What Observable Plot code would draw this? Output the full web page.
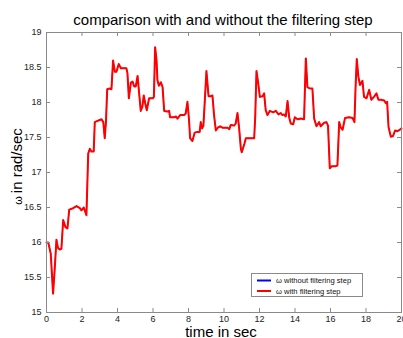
<!DOCTYPE html>
<html><head><meta charset="utf-8">
<script src="https://cdn.jsdelivr.net/npm/d3@7"></script>
<script src="https://cdn.jsdelivr.net/npm/@observablehq/plot@0.6"></script>
<style>html,body{margin:0;padding:0;background:#fff;} svg{display:block}</style>
</head><body><div id="chart"></div>
<script>
const timeSec = [0.0,0.1,0.24,0.37,0.47,0.56,0.65,0.75,0.84,0.94,1.07,1.18,1.28,1.5,1.69,1.88,1.97,2.1,2.25,2.35,2.44,2.53,2.66,2.72,2.9,3.1,3.2,3.28,3.35,3.42,3.56,3.66,3.75,3.85,3.94,4.07,4.19,4.5,4.56,4.64,4.75,4.85,4.94,5.03,5.13,5.22,5.31,5.4,5.48,5.56,5.65,5.78,6.0,6.05,6.12,6.2,6.25,6.33,6.44,6.54,6.63,6.82,6.91,6.96,7.2,7.3,7.38,7.53,7.75,7.84,7.94,8.03,8.09,8.22,8.35,8.5,8.63,8.69,8.77,8.84,8.92,9.01,9.13,9.25,9.35,9.44,9.54,9.65,9.78,9.91,10.2,10.3,10.38,10.57,10.66,10.76,10.85,10.95,11.0,11.15,11.23,11.42,11.7,11.76,11.83,11.93,12.02,12.17,12.26,12.35,12.45,12.58,12.77,12.92,13.07,13.2,13.29,13.38,13.48,13.58,13.67,13.76,13.9,13.99,14.14,14.33,14.51,14.61,14.7,14.83,14.98,15.08,15.21,15.36,15.45,15.64,15.77,15.86,15.96,16.07,16.3,16.39,16.49,16.58,16.68,16.82,17.05,17.24,17.35,17.41,17.48,17.57,17.66,17.8,17.89,18.03,18.18,18.3,18.45,18.59,18.7,18.83,19.02,19.12,19.19,19.27,19.4,19.52,19.64,19.77,19.9,20.0];
const omegaWithFilter = [16.0,16.0,15.84,15.27,15.65,16.04,15.92,15.9,15.91,16.32,16.22,16.2,16.47,16.49,16.52,16.49,16.46,16.5,16.39,17.27,17.34,17.3,17.3,17.72,17.74,17.76,17.72,17.49,17.72,18.19,18.2,18.19,18.6,18.44,18.44,18.55,18.49,18.49,18.42,18.06,18.28,18.3,18.23,18.23,18.38,18.13,17.88,17.94,18.1,17.99,17.89,18.06,18.06,18.08,18.79,18.6,18.32,18.24,18.29,18.22,17.88,17.87,17.88,17.79,17.79,17.8,17.77,17.82,17.82,17.84,18.01,17.75,17.49,17.45,17.57,17.58,17.58,17.72,17.63,17.67,18.03,18.45,18.09,18.09,18.1,17.82,17.6,17.64,17.66,17.64,17.64,17.62,17.68,17.67,17.7,17.85,17.64,17.34,17.29,17.41,17.49,17.49,17.49,17.8,18.45,18.27,18.08,18.09,18.13,17.89,17.82,17.88,17.86,17.88,17.83,17.85,17.82,17.83,17.8,18.02,17.79,17.7,17.69,17.79,17.76,17.77,17.76,18.63,18.22,18.2,18.2,17.77,17.66,17.72,17.66,17.71,17.72,17.67,17.06,17.09,17.09,17.1,17.72,17.64,17.61,17.78,17.79,17.78,17.72,18.2,18.62,18.37,18.25,18.31,18.08,18.06,18.18,18.04,18.08,18.13,18.04,18.04,18.03,17.99,18.01,17.65,17.51,17.52,17.6,17.59,17.61,17.63];
// The blue curve is entirely hidden under the red one: identical values.
const omegaWithoutFilter = omegaWithFilter.slice();
const xTicks = [0,2,4,6,8,10,12,14,16,18,20];
const yTicks = [15,15.5,16,16.5,17,17.5,18,18.5,19];
const seriesNames = ["\u03c9 without filtering step", "\u03c9 with filtering step"];
const seriesColors = ["#0000ff", "#ff0000"];
const titleText = "comparison with and without the filtering step";
const xLabel = "time in sec";
const yLabel = "in rad/sec";

const W = 403, H = 338, mL = 46, mR = 2, mT = 32, mB = 26;
const plotW = W - mL - mR, plotH = H - mT - mB;
const tl = 4;
const axisGray = "#8a8a8a";

const without = timeSec.map((t, i) => ({t, v: omegaWithoutFilter[i]}));
const withF = timeSec.map((t, i) => ({t, v: omegaWithFilter[i]}));

const chart = Plot.plot({
  width: W, height: H,
  marginLeft: mL, marginRight: mR, marginTop: mT, marginBottom: mB,
  style: {fontFamily: "Liberation Sans, Arial, sans-serif", background: "#fff"},
  x: {domain: [0, 20]},
  y: {domain: [15, 19]},
  marks: [
    Plot.line(without, {x: "t", y: "v", stroke: seriesColors[0], strokeWidth: 0.8}),
    Plot.line(withF, {x: "t", y: "v", stroke: seriesColors[1], strokeWidth: 2}),
    Plot.frame({stroke: axisGray}),
    Plot.tickX(xTicks, {x: d => d, stroke: axisGray, insetTop: plotH - tl}),
    Plot.tickX(xTicks, {x: d => d, stroke: axisGray, insetBottom: plotH - tl}),
    Plot.tickY(yTicks, {y: d => d, stroke: axisGray, insetRight: plotW - tl}),
    Plot.tickY(yTicks, {y: d => d, stroke: axisGray, insetLeft: plotW - tl}),
    Plot.axisX(xTicks, {tickSize: 0, tickPadding: 3, fontSize: 9, fill: "#222", label: null}),
    Plot.axisY(yTicks, {tickSize: 0, tickPadding: 5, fontSize: 9, fill: "#222", label: null, tickFormat: d => String(d)})
  ]
});
document.getElementById("chart").appendChild(chart);

const svg = d3.select(chart);
const ff = "Liberation Sans, Arial, sans-serif";
svg.append("text").attr("x", 223).attr("y", 24.5).attr("text-anchor", "middle")
  .attr("font-size", 15).attr("font-family", ff).attr("fill", "#000").text(titleText);
svg.append("text").attr("x", 221).attr("y", 337).attr("text-anchor", "middle")
  .attr("font-size", 15).attr("font-family", ff).attr("fill", "#000").text(xLabel);
const yl = svg.append("text").attr("transform", "translate(21.5,166.5) rotate(-90)").attr("text-anchor", "middle")
  .attr("font-size", 15).attr("font-family", ff).attr("fill", "#000");
yl.append("tspan").attr("font-size", 11).text("\u03c9 ");
yl.append("tspan").text(yLabel);

// legend
const lg = svg.append("g");
lg.append("rect").attr("x", 251.5).attr("y", 273.5).attr("width", 111).attr("height", 23)
  .attr("fill", "#fff").attr("stroke", axisGray);
[280.5, 291].forEach((yy, i) => {
  lg.append("line").attr("x1", 257).attr("x2", 271).attr("y1", yy).attr("y2", yy)
    .attr("stroke", seriesColors[i]).attr("stroke-width", 2);
  lg.append("text").attr("x", 276).attr("y", yy + 2.8).attr("font-size", 7.6)
    .attr("text-anchor", "start")
    .attr("font-family", ff).attr("fill", "#111").text(seriesNames[i]);
});
</script></body></html>
